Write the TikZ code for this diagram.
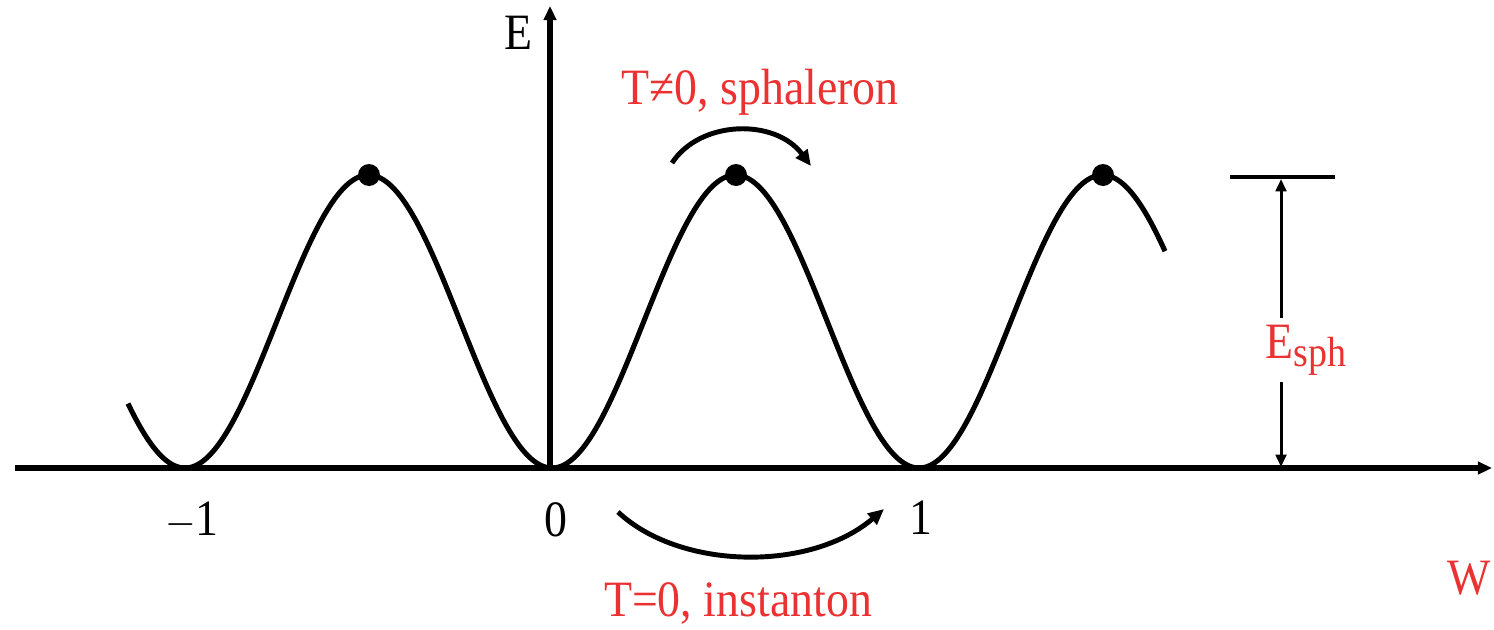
\documentclass[tikz,border=0pt]{standalone}
\usepackage{fontspec}
\usepackage{graphicx}
\setmainfont{Liberation Serif}
\usetikzlibrary{arrows.meta}
\definecolor{mred}{RGB}{235,50,50}
\newcommand{\tx}[1]{\scalebox{0.9}[1]{#1}}
\begin{document}
\begin{tikzpicture}[x=0.02cm,y=-0.02cm,
  axis/.style={line width=3pt,-{Triangle[length=8pt,width=7pt]}},
  curve/.style={line width=2.9pt},
  proc/.style={line width=2.8pt,-{Triangle[length=9pt,width=8pt]}},
  lab/.style={inner sep=1pt,font=\fontsize{29}{32}\selectfont},
  rlab/.style={lab,text=mred},
  topdot/.style={circle,fill=black,minimum size=0.44cm,inner sep=0pt}]
\useasboundingbox (0,0) rectangle (1494,629);
% axes
\coordinate (xs) at (15,468);
\coordinate (xe) at (1492,468);
\coordinate (yo) at (550,470);
\coordinate (ye) at (550,6);
\draw[axis] (xs) -- (xe);
\draw[axis] (yo) -- (ye);
% curve
\draw[curve] plot[domain=128:1165,samples=240,smooth] (\x,{468-146.5*(1-cos((\x-552)*0.980926))});
% maxima
\node[topdot] (m1) at (369,175) {};
\node[topdot] (m2) at (736,175) {};
\node[topdot] (m3) at (1103,175) {};
% labels
\node[lab] (E) at (518,33) {\tx{E}};
\node[rlab,anchor=east] (W) at (1493,578) {\tx{W}};
\node[lab] (tm1) at (192,520) {\tx{$-$1}};
\node[lab] (t0) at (556,520) {\tx{0}};
\node[lab] (t1) at (921,518) {\tx{1}};
\node[rlab] (sph) at (760,92) {\tx{T≠0, sphaleron}};
\node[rlab] (ins) at (738,603) {\tx{T=0, instanton}};
% sphaleron arrow
\coordinate (s1) at (672,163);
\coordinate (s2) at (811,166);
\draw[proc] (s1) .. controls (700,120) and (775,118) .. (s2);
% instanton arrow
\coordinate (i1) at (618,512);
\coordinate (i2) at (884,509);
\draw[proc] (i1) .. controls (680,570) and (810,572) .. (i2);
% E_sph bar
\coordinate (b1) at (1230,177);
\coordinate (b2) at (1335,177);
\draw[line width=2.6pt] (b1) -- (b2);
\coordinate (at) at (1281,179);
\coordinate (ab) at (1281,467);
\draw[line width=1.7pt,{Triangle[length=7pt,width=6pt]}-{Triangle[length=7pt,width=6pt]}] (at) -- (ab);
\node[rlab,fill=white,inner sep=4pt] (esph) at (1306,350) {\tx{E\raisebox{-0.35ex}{\fontsize{24}{26}\selectfont sph}}};
\end{tikzpicture}
\end{document}
